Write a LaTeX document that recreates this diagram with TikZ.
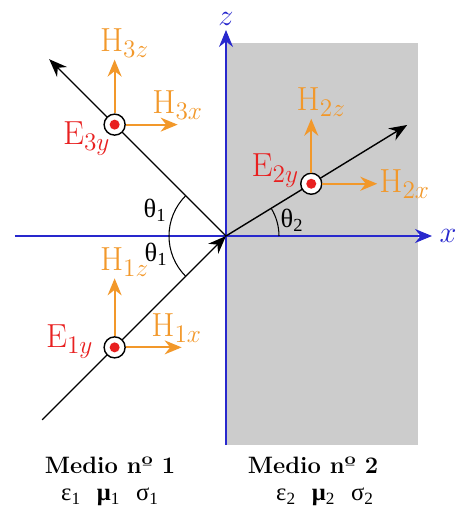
\documentclass[tikz,border=0pt]{standalone}
\usepackage{fontspec}
\newfontfamily\griego{Liberation Serif}
\usetikzlibrary{arrows.meta,positioning}
\definecolor{azul}{RGB}{40,40,205}
\definecolor{naranja}{RGB}{242,152,42}
\definecolor{rojo}{RGB}{232,32,32}

\begin{document}
\begin{tikzpicture}[
  eje/.style={azul, semithick, -{Stealth[length=3.4mm,width=2.8mm]}},
  rayo/.style={black, thick, -{Stealth[length=3.6mm,width=2.8mm]}},
  hcampo/.style={naranja, line width=1pt, -{Stealth[length=3.4mm,width=2.8mm]}},
  campo/.style={circle, draw, thick, fill=white, minimum size=0.42cm, inner sep=0pt},
  etiq/.style={font=\fontsize{19}{21}\selectfont, inner sep=1pt},
  angulo/.style={font=\griego\fontsize{15}{17}\selectfont, inner sep=0pt},
  medio/.style={font=\bfseries\fontsize{13.5}{16}\selectfont},
  param/.style={font=\griego\fontsize{14}{16}\selectfont}
]
  \useasboundingbox (-4.52,-5.64) rectangle (4.62,4.72);

  % Medio 2 sombreado
  \fill[gray!40] (0,-4.18) rectangle (3.84,3.86);

  % Ejes
  \coordinate (O) at (0,0);
  \coordinate (xizq) at (-4.22,0);
  \coordinate (xder) at (4.12,0);
  \coordinate (zabajo) at (0,-4.18);
  \coordinate (zarriba) at (0,4.12);
  \draw[eje] (xizq) -- (xder) node[right, etiq, azul, inner sep=4pt] {$x$};
  \draw[eje] (zabajo) -- (zarriba) node[above, etiq, azul, inner sep=2pt] {$z$};

  % Rayos incidente, reflejado y transmitido
  \coordinate (A1) at (225:5.2);
  \coordinate (A3) at (135:5.0);
  \coordinate (A2) at (31.5:4.25);
  \draw[rayo] (A1) -- (O);
  \draw[rayo] (O) -- (A3);
  \draw[rayo] (O) -- (A2);

  % Angulos
  \draw[semithick] (135:1.14) arc (135:225:1.14);
  \draw[semithick] (1.06,0) arc (0:31.5:1.06);
  \node[angulo] (t1a) at (-1.42,0.52) {θ\textsubscript{1}};
  \node[angulo] (t1b) at (-1.40,-0.36) {θ\textsubscript{1}};
  \node[angulo] (t2) at (1.32,0.32) {θ\textsubscript{2}};

  % Campo E saliendo del plano
  \node[campo] (E1y) at (225:3.15) {};
  \node[campo] (E3y) at (135:3.15) {};
  \node[campo] (E2y) at (31.5:2.0) {};
  \foreach \n in {E1y,E2y,E3y}
    \fill[rojo] (\n) circle (0.1);
  \node[etiq, rojo, left=0.16cm of E1y, yshift=0.12cm] (lE1y) {$\mathrm{E}_{1y}$};
  \node[etiq, rojo, left=-0.18cm of E3y, yshift=-0.28cm] (lE3y) {$\mathrm{E}_{3y}$};
  \node[etiq, rojo, left=-0.02cm of E2y, yshift=0.26cm] (lE2y) {$\mathrm{E}_{2y}$};

  % Campo H
  \draw[hcampo] (E1y) -- ++(0,1.38) coordinate (H1z);
  \draw[hcampo] (E1y) -- ++(1.34,0) coordinate (H1x);
  \draw[hcampo] (E3y) -- ++(0,1.30) coordinate (H3z);
  \draw[hcampo] (E3y) -- ++(1.26,0) coordinate (H3x);
  \draw[hcampo] (E2y) -- ++(0,1.30) coordinate (H2z);
  \draw[hcampo] (E2y) -- ++(1.32,0) coordinate (H2x);
  \node[etiq, naranja, above=0pt of H1z, xshift=0.2cm] (lH1z) {$\mathrm{H}_{1z}$};
  \node[etiq, naranja, above=0.06cm of H1x, xshift=-0.1cm] (lH1x) {$\mathrm{H}_{1x}$};
  \node[etiq, naranja, above=0pt of H3z, xshift=0.2cm] (lH3z) {$\mathrm{H}_{3z}$};
  \node[etiq, naranja, above=0.06cm of H3x] (lH3x) {$\mathrm{H}_{3x}$};
  \node[etiq, naranja, above=0pt of H2z, xshift=0.2cm] (lH2z) {$\mathrm{H}_{2z}$};
  \node[etiq, naranja, right=0pt of H2x] (lH2x) {$\mathrm{H}_{2x}$};

  % Medios
  \node[medio] (m1) at (-2.32,-4.58) {Medio nº 1};
  \node[medio] (m2) at (1.74,-4.58) {Medio nº 2};
  \node[param] (p1) at (-2.32,-5.22) {ε\textsubscript{1}\hspace{9pt}{\bfseries μ}\textsubscript{1}\hspace{9pt}σ\textsubscript{1}};
  \node[param] (p2) at (1.98,-5.22) {ε\textsubscript{2}\hspace{9pt}{\bfseries μ}\textsubscript{2}\hspace{9pt}σ\textsubscript{2}};
\end{tikzpicture}
\end{document}
